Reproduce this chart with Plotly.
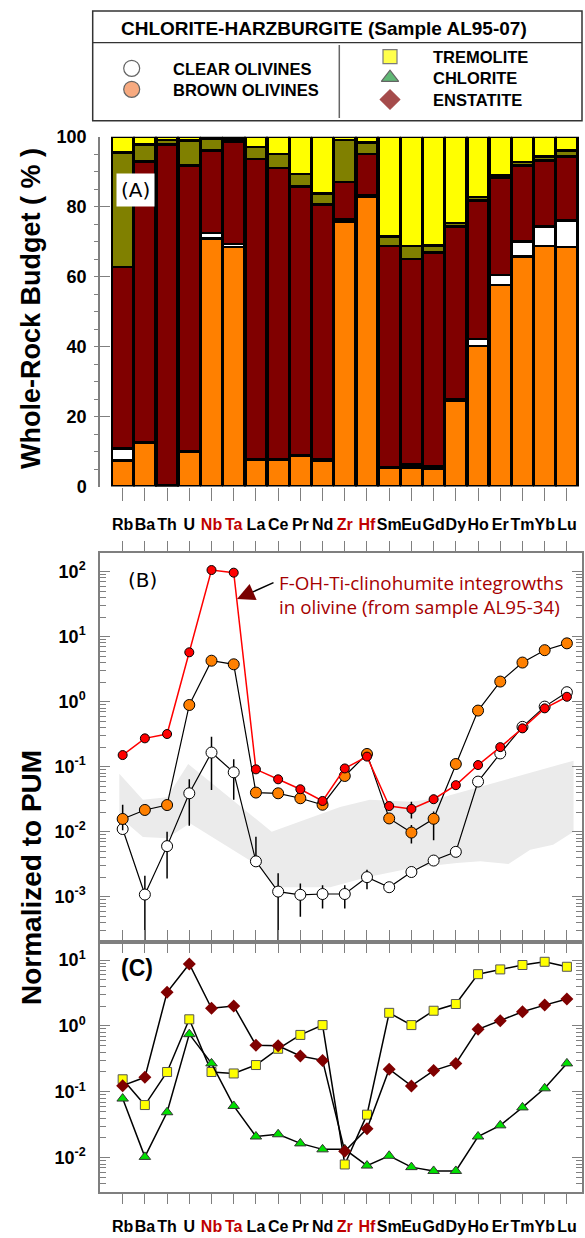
import plotly.graph_objects as go

W, H = 585, 1238
def px(x): return x / W
def py(y): return 1 - y / H

elements = ["Rb", "Ba", "Th", "U", "Nb", "Ta", "La", "Ce", "Pr", "Nd", "Zr", "Hf",
            "Sm", "Eu", "Gd", "Dy", "Ho", "Er", "Tm", "Yb", "Lu"]
red_labels = {"Nb", "Ta", "Zr", "Hf"}
xi = list(range(len(elements)))

# Panel A: whole-rock budget (%)
budget_brown = [7.5, 12.5, 0.3, 9.9, 70.9, 68.5, 7.7, 7.6, 8.7, 7.5, 75.8, 82.7, 5.3, 5.4, 5.2, 24.4, 40.1, 57.6, 65.8, 68.7, 68.5]
budget_clear = [3.4, 0.2, 0.1, 0.1, 1.5, 0.8, 0.2, 0.2, 0.2, 0.2, 0.6, 0.5, 0.2, 0.9, 0.6, 0.6, 2.1, 2.8, 4.2, 5.7, 7.6]
budget_enst = [51.8, 80.2, 97.4, 81.7, 23.6, 29.3, 85.7, 83.2, 76.9, 72.9, 10.6, 11.9, 63.2, 58.8, 61.1, 49.3, 39.6, 28.0, 21.8, 18.8, 18.2]
budget_chl = [32.8, 4.9, 1.3, 7.2, 3.3, 0.6, 3.4, 4.0, 3.6, 3.1, 12.1, 3.3, 2.8, 3.7, 2.0, 1.0, 0.9, 0.7, 1.0, 1.2, 1.8]
budget_trem = [4.5, 2.2, 0.9, 1.1, 0.7, 0.8, 3.0, 5.0, 10.6, 16.3, 0.9, 1.6, 28.5, 31.2, 31.1, 24.7, 17.3, 10.9, 7.2, 5.6, 3.9]

# Panel B: normalized to PUM
clear_ol = [0.011, 0.00108, 0.006, 0.039, 0.165, 0.082, 0.0035, 0.0012, 0.00107, 0.0011, 0.0011, 0.002, 0.0014, 0.0024, 0.0036, 0.0049, 0.059, 0.16, 0.41, 0.84, 1.4]
clear_hi = [None, 0.0021, 0.010, 0.064, 0.29, 0.13, 0.0084, 0.0023, 0.0016, 0.0015, 0.0015, 0.0026, None, None, None, None, None, None, None, None, None]
clear_lo = [None, 0.0001, 0.0019, 0.0123, 0.044, 0.031, None, 0.0001, 0.00049, 0.00066, 0.00066, 0.0013, None, None, None, None, None, None, None, None, None]
brown_ol = [0.0157, 0.0216, 0.0257, 0.89, 4.27, 3.76, 0.040, 0.039, 0.0327, 0.026, 0.072, 0.157, 0.016, 0.0097, 0.0158, 0.11, 0.73, 2.04, 4.0, 6.2, 7.9]
brown_hi = [0.026, 0.025, None, None, None, None, None, None, None, None, None, None, 0.018, 0.0127, 0.0204, None, None, None, None, None, None]
brown_lo = [0.0105, 0.019, None, None, None, None, None, None, None, None, None, None, 0.014, 0.0066, 0.0074, None, None, None, None, None, None]
clinohumite = [0.151, 0.273, 0.318, 5.75, 106, 96.6, 0.091, 0.064, 0.045, 0.0297, 0.094, 0.143, 0.0248, 0.0224, 0.0316, 0.052, 0.106, 0.20, 0.389, 0.79, 1.19]
clino_hi = [None, None, None, None, None, None, None, None, None, None, None, None, None, 0.0288, 0.037, None, None, None, None, None, None]
clino_lo = [None, None, None, None, None, None, None, None, None, None, None, None, None, 0.016, 0.028, None, None, None, None, None, None]

band_x_upper = [-0.15, 0.91, 2.0, 2.95, 6.71, 9.79, 11.13, 12.94, 14.29, 20.3]
band_y_upper = [0.078, 0.031, 0.034, 0.11, 0.010, 0.024, 0.031, 0.029, 0.033, 0.124]
band_x_lower = [20.3, 19.38, 18.35, 17.37, 16.1, 15.05, 13.08, 10.99, 9.34, 6.94, 6.04, 3.03, 2.0, 0.91, -0.15]
band_y_lower = [0.010, 0.0063, 0.0053, 0.0032, 0.0035, 0.0033, 0.0028, 0.0020, 0.0014, 0.0014, 0.0031, 0.0135, 0.0079, 0.0083, 0.017]

# Panel C
tremolite = [0.155, 0.063, 0.20, 1.26, 0.20, 0.19, 0.255, 0.45, 0.73, 1.03, 0.0079, 0.045, 1.58, 1.03, 1.7, 2.15, 6.1, 7.2, 8.4, 9.4, 7.9]
chlorite = [0.079, 0.0103, 0.049, 0.75, 0.27, 0.061, 0.021, 0.0227, 0.0165, 0.0134, 0.0134, 0.0076, 0.0107, 0.0072, 0.0063, 0.0063, 0.021, 0.031, 0.058, 0.113, 0.27]
enstatite = [0.124, 0.166, 3.24, 8.7, 1.85, 2.0, 0.51, 0.50, 0.35, 0.30, 0.0125, 0.0275, 0.22, 0.123, 0.21, 0.27, 0.89, 1.2, 1.64, 2.07, 2.57]

def errs(vals, hi, lo):
    up = [(h - v) if h is not None else 0 for v, h in zip(vals, hi)]
    dn = [(v - l) if l is not None else 0 for v, l in zip(vals, lo)]
    return dict(type="data", symmetric=False, array=up, arrayminus=dn,
                color="black", thickness=1.5, width=0)

C_ORANGE = "#FF8000"
C_DRED = "#800000"
C_OLIVE = "#808000"
C_YEL = "#FFFF00"
C_GREEN = "#00E000"

fig = go.Figure()

bar_line = dict(color="black", width=2.5)
for vals, col, name in [(budget_brown, C_ORANGE, "Brown olivines"),
                        (budget_clear, "#FFFFFF", "Clear olivines"),
                        (budget_enst, C_DRED, "Enstatite"),
                        (budget_chl, C_OLIVE, "Chlorite"),
                        (budget_trem, C_YEL, "Tremolite")]:
    fig.add_trace(go.Bar(x=xi, y=vals, marker=dict(color=col, line=bar_line),
                         name=name, xaxis="x", yaxis="y", showlegend=False))

# Panel B
fig.add_trace(go.Scatter(x=band_x_upper + band_x_lower, y=band_y_upper + band_y_lower,
                         fill="toself", fillcolor="#EBEBEB", line=dict(width=0),
                         mode="lines", xaxis="x2", yaxis="y2", showlegend=False))
fig.add_trace(go.Scatter(x=xi, y=clear_ol, mode="lines+markers", xaxis="x2", yaxis="y2",
                         line=dict(color="black", width=1.2),
                         marker=dict(symbol="circle", size=11, color="white", line=dict(color="black", width=1)),
                         error_y=errs(clear_ol, clear_hi, clear_lo), showlegend=False))
fig.add_trace(go.Scatter(x=xi, y=brown_ol, mode="lines+markers", xaxis="x2", yaxis="y2",
                         line=dict(color="black", width=1.2),
                         marker=dict(symbol="circle", size=11, color=C_ORANGE, line=dict(color="black", width=1)),
                         error_y=errs(brown_ol, brown_hi, brown_lo), showlegend=False))
fig.add_trace(go.Scatter(x=xi, y=clinohumite, mode="lines+markers", xaxis="x2", yaxis="y2",
                         line=dict(color="#FF0000", width=1.5),
                         marker=dict(symbol="circle", size=9, color="#FF0000", line=dict(color="black", width=1)),
                         error_y=errs(clinohumite, clino_hi, clino_lo), showlegend=False))

# Panel C
fig.add_trace(go.Scatter(x=xi, y=tremolite, mode="lines+markers", xaxis="x3", yaxis="y3",
                         line=dict(color="black", width=1.5),
                         marker=dict(symbol="square", size=9, color=C_YEL, line=dict(color="#555555", width=1)),
                         showlegend=False))
fig.add_trace(go.Scatter(x=xi, y=chlorite, mode="lines+markers", xaxis="x3", yaxis="y3",
                         line=dict(color="black", width=1.5),
                         marker=dict(symbol="triangle-up", size=10, color=C_GREEN, line=dict(color="#333333", width=1)),
                         showlegend=False))
fig.add_trace(go.Scatter(x=xi, y=enstatite, mode="lines+markers", xaxis="x3", yaxis="y3",
                         line=dict(color="black", width=1.5),
                         marker=dict(symbol="diamond", size=10, color=C_DRED, line=dict(color=C_DRED, width=0)),
                         showlegend=False))

# Legend markers (pixel frame overlay)
leg_x = [131.7, 131.7, 390, 390, 390]
leg_y = [68.3, 89.3, 56.7, 77.7, 99.5]
leg_sym = ["circle", "circle", "square", "triangle-up", "diamond"]
leg_col = ["#FFFFFF", "#F4874B", "#FFFF00", "#1E9B3C", "#800000"]
leg_lc = ["#222222", "#222222", "#444444", "#222222", "#800000"]
leg_size = [16, 16, 14, 15, 15]
fig.add_trace(go.Scatter(x=leg_x, y=leg_y, mode="markers", xaxis="x4", yaxis="y4",
                         marker=dict(symbol=leg_sym, color=leg_col, size=leg_size,
                                     line=dict(color=leg_lc, width=1.2)),
                         showlegend=False, cliponaxis=False))

FONT = "Liberation Sans, Arial, sans-serif"
ticktext = [f'<span style="color:#C00000">{e}</span>' if e in red_labels else e for e in elements]
xdom = [px(100), px(582)]
xrange = [-1.02, 20.68]
GRAY = "#7F7F7F"

def xax(anchor, labels=True, **kw):
    d = dict(domain=xdom, range=xrange, tickmode="array", tickvals=xi, ticktext=ticktext,
             tickfont=dict(family=FONT, size=16, color="black", weight="bold"),
             showticklabels=labels, tickangle=0, automargin=False,
             showgrid=False, zeroline=False, tickcolor=GRAY, tickwidth=1.2, anchor=anchor)
    d.update(kw)
    return d

def decade_minor(lo, hi):
    return [k * 10.0 ** e for e in range(lo, hi) for k in range(2, 10)]

dec_vals_B = [1e-3, 1e-2, 1e-1, 1, 10, 100]
dec_text_B = ["10<sup>-3</sup>", "10<sup>-2</sup>", "10<sup>-1</sup>", "10<sup>0</sup>", "10<sup>1</sup>", "10<sup>2</sup>"]
dec_vals_C = [1e-2, 1e-1, 1, 10]
dec_text_C = ["10<sup>-2</sup>", "10<sup>-1</sup>", "10<sup>0</sup>", "10<sup>1</sup>"]
yfont = dict(family=FONT, size=18, color="black", weight="bold")

def logy(domain, rng, vals, text, minor_vals, anchor):
    return dict(domain=domain, type="log", range=rng, anchor=anchor, automargin=False,
                tickmode="array", tickvals=vals, ticktext=text, tickfont=yfont,
                ticks="inside", ticklen=10, tickcolor=GRAY, tickwidth=1.2,
                minor=dict(tickmode="array", tickvals=minor_vals, ticks="inside", ticklen=6,
                           tickcolor=GRAY, showgrid=False),
                showline=True, linecolor=GRAY, linewidth=1.5, mirror="ticks",
                showgrid=False, zeroline=False, ticklabelstandoff=9)

fig.update_layout(
    width=W, height=H, margin=dict(l=0, r=0, t=0, b=0, autoexpand=False),
    paper_bgcolor="white", plot_bgcolor="rgba(0,0,0,0)",
    barmode="stack", bargap=0.04, showlegend=False,
    xaxis=xax("y", ticks="outside", ticklen=13, showline=False, ticklabelstandoff=10),
    yaxis=dict(domain=[py(486.5), py(136.7)], range=[0, 100], anchor="x", automargin=False,
               tickmode="array", tickvals=[0, 20, 40, 60, 80, 100], tickfont=yfont,
               ticks="inside", ticklen=10, tickcolor=GRAY, tickwidth=1.2,
               minor=dict(tickmode="array", tickvals=list(range(0, 101, 5)), ticks="outside",
                          ticklen=4, tickcolor=GRAY, showgrid=False),
               showline=True, linecolor=GRAY, linewidth=1.5, showgrid=False, zeroline=False,
               ticklabelstandoff=8),
    xaxis2=xax("y2", labels=False, ticks="outside", ticklen=10, showline=True,
               linecolor=GRAY, linewidth=1.5, mirror="ticks"),
    yaxis2=logy([py(941.7), py(552.7)], [-3.692, 2.292], dec_vals_B, dec_text_B, decade_minor(-4, 3), "x2"),
    xaxis3=xax("y3", ticks="outside", ticklen=10, showline=True,
               linecolor=GRAY, linewidth=1.5, mirror="ticks", ticklabelstandoff=9),
    yaxis3=logy([py(1192), py(941.7)], [-2.52, 1.278], dec_vals_C, dec_text_C, decade_minor(-3, 2), "x3"),
    xaxis4=dict(domain=[0, 1], range=[0, W], anchor="y4", visible=False, fixedrange=True, automargin=False),
    yaxis4=dict(domain=[0, 1], range=[H, 0], anchor="x4", visible=False, fixedrange=True, automargin=False),
)

shapes = [
    dict(type="rect", xref="paper", yref="paper", x0=px(92.7), x1=px(582), y0=py(120.7), y1=py(11),
         line=dict(color="#333333", width=1.5)),
    dict(type="line", xref="paper", yref="paper", x0=px(92.7), x1=px(582), y0=py(42.7), y1=py(42.7),
         line=dict(color="#333333", width=1.2)),
    dict(type="line", xref="paper", yref="paper", x0=px(339.3), x1=px(339.3), y0=py(45), y1=py(118),
         line=dict(color="#666666", width=1.5)),
]
fig.update_layout(shapes=shapes)

annos = []
def txt(x, y, s, size=14, color="black", xanchor="left", weight="bold", family=FONT, **kw):
    annos.append(dict(x=px(x), y=py(y), xref="paper", yref="paper", text=s, showarrow=False,
                      xanchor=xanchor, yanchor="middle",
                      font=dict(family=family, size=size, color=color, weight=weight), **kw))

txt(119, 28, "CHLORITE-HARZBURGITE (Sample AL95-07)", size=19)
txt(171, 69, "CLEAR OLIVINES", size=16.5)
txt(171, 90, "BROWN OLIVINES", size=16.5)
txt(431, 57, "TREMOLITE", size=16.5)
txt(431, 78, "CHLORITE", size=16.5)
txt(431, 100, "ENSTATITE", size=16.5)

txt(31, 309, "Whole-Rock Budget ( % )", size=27, xanchor="center", textangle=-90)
txt(31, 878, "Normalized to PUM", size=28, xanchor="center", textangle=-90)

txt(135.5, 190, "(A)", size=20, xanchor="center", weight="normal", family="DejaVu Sans, sans-serif",
    bgcolor="white", borderpad=4)
txt(142, 580, "(B)", size=20, xanchor="center", weight="normal", family="DejaVu Sans, sans-serif")
txt(136.5, 968, "(C)", size=23, xanchor="center")

txt(565, 595, "F-OH-Ti-clinohumite integrowths<br>in olivine (from sample AL95-34)",
    size=18.8, color="#A50000", weight="normal", family="Open Sans, sans-serif", align="left",
    xanchor="right")

# arrow: black shaft, dark-red head
annos.append(dict(x=px(240), y=py(597.7), xref="paper", yref="paper", ax=35, ay=-15.7,
                  showarrow=True, arrowhead=0, arrowwidth=1.5, arrowcolor="black", text=""))
annos.append(dict(x=px(237), y=py(599), xref="paper", yref="paper", ax=16, ay=-7,
                  showarrow=True, arrowhead=2, arrowsize=1.6, arrowwidth=2.2,
                  arrowcolor="#7A0000", text=""))
fig.update_layout(annotations=annos)

fig.write_html("out.html")
